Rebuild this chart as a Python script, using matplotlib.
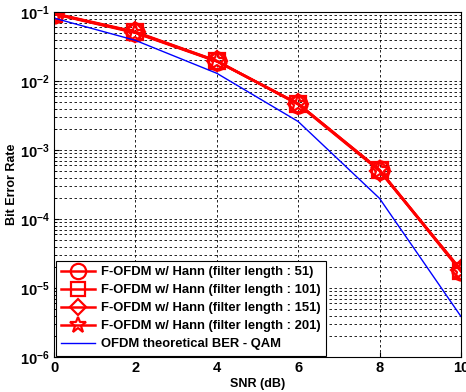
import matplotlib
matplotlib.use("Agg")
import matplotlib.pyplot as plt
import numpy as np

plt.rcParams['font.family'] = ['Liberation Sans', 'DejaVu Sans']

snr = [0, 2, 4, 6, 8, 10]
ber_51 = [0.095, 0.051, 0.0195, 0.0047, 5.1e-4, 1.8e-5]
ber_101 = [0.095, 0.051, 0.0195, 0.0047, 5.1e-4, 1.75e-5]
ber_151 = [0.096, 0.052, 0.0197, 0.0046, 5.0e-4, 1.85e-5]
ber_201 = [0.094, 0.050, 0.0193, 0.0047, 5.2e-4, 1.8e-5]
ber_theory = [0.082, 0.039, 0.013, 0.0026, 2.0e-4, 3.9e-6]
labels = ['F-OFDM w/ Hann (filter length : 51)',
          'F-OFDM w/ Hann (filter length : 101)',
          'F-OFDM w/ Hann (filter length : 151)',
          'F-OFDM w/ Hann (filter length : 201)',
          'OFDM theoretical BER - QAM']

fig = plt.figure(figsize=(4.66, 3.92), dpi=100)
ax = fig.add_axes([0.116, 0.089, 0.873, 0.880])

markers = ['o', 's', 'D', '*']
sizes = [13, 12, 10, 14]
for ys, m, s, lab in zip([ber_51, ber_101, ber_151, ber_201], markers, sizes, labels[:4]):
    ax.semilogy(snr, ys, color='red', lw=1.8, marker=m, ms=s, mfc='none', mec='red', mew=1.6, label=lab)
ax.semilogy(snr, ber_theory, color='blue', lw=1.0, label=labels[4])

ax.set_xlim(0, 10)
ax.set_ylim(1e-6, 1e-1)
ax.set_xticks([0, 2, 4, 6, 8, 10])
ax.grid(True, which='major', axis='both', color='black', ls=(0, (3, 3)), lw=0.6)
ax.grid(True, which='minor', axis='y', color='black', ls=(0, (3, 3)), lw=0.6)
ax.tick_params(which='both', direction='in', labelsize=10.5, pad=3)
ax.tick_params(which='minor', length=2)
for lbl in ax.get_xticklabels() + ax.get_yticklabels():
    lbl.set_fontweight('bold')
ax.set_xlabel('SNR (dB)', fontsize=9, fontweight='bold', labelpad=2)
ax.set_ylabel('Bit Error Rate', fontsize=9, fontweight='bold', labelpad=1)

leg = ax.legend(loc='lower left', prop={'size': 9.4, 'weight': 'bold'}, fancybox=False,
                edgecolor='black', framealpha=1, handlelength=2.6, borderaxespad=0.12,
                labelspacing=0.45, borderpad=0.4, handletextpad=0.5, markerscale=0.85)
leg.get_frame().set_linewidth(0.8)

fig.savefig('out.png', dpi=100)
